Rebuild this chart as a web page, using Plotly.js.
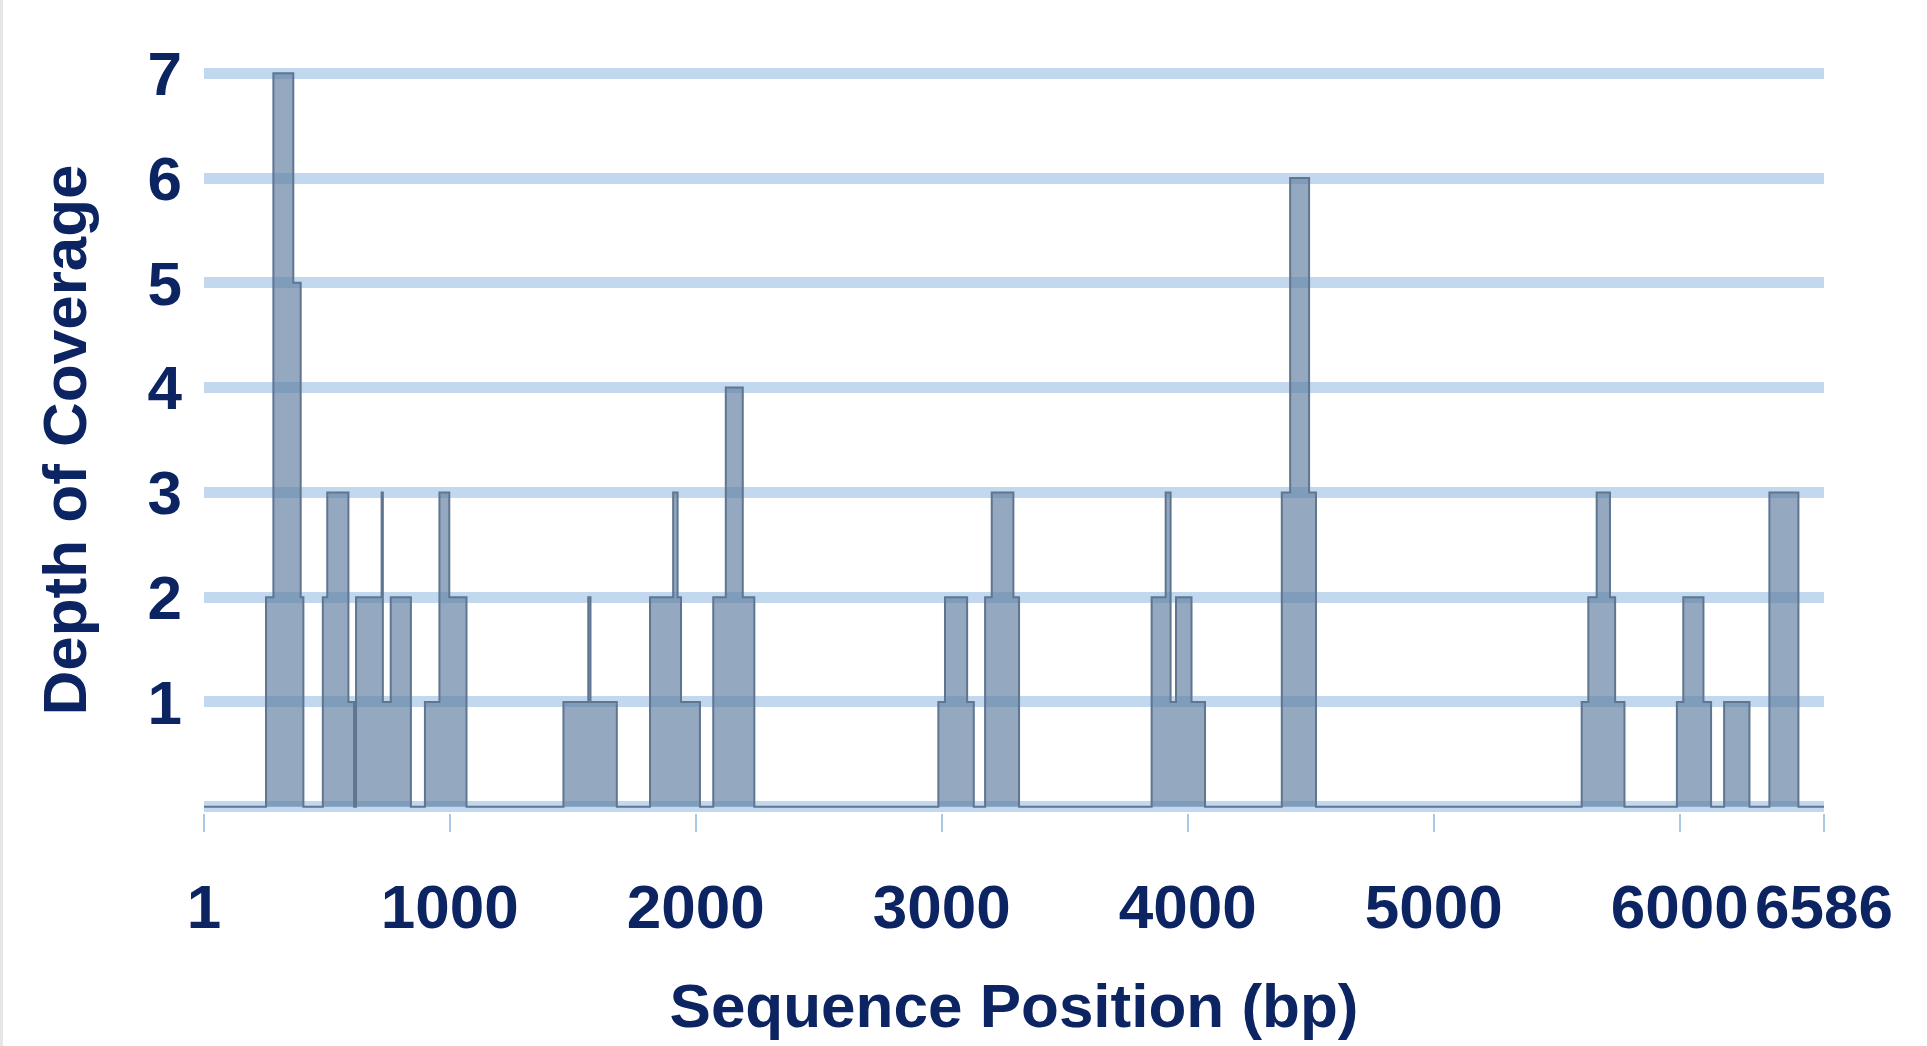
<!DOCTYPE html>
<html>
<head>
<meta charset="utf-8">
<script src="https://cdn.plot.ly/plotly-3.0.1.min.js"></script>
<style>
  html, body { margin: 0; padding: 0; background: #ffffff; }
  #chart { width: 1927px; height: 1046px; }
  #edge { position: absolute; left: 0; top: 0; width: 3px; height: 1046px; background: #e6e6e6; }
</style>
</head>
<body>
<div id="chart"></div>
<div id="edge"></div>
<script>
// Step positions (bp) where coverage depth changes, and the depth from that position on
const positions = [1, 253, 283, 364, 394, 405, 484, 502, 588, 611, 619, 723, 728, 760, 842,
  899, 958, 998, 1068, 1462, 1563, 1572, 1679, 1814, 1908, 1926, 1940, 2017,
  2071, 2122, 2191, 2238, 2986, 3013, 3103, 3130, 3176, 3203, 3291, 3314,
  3853, 3910, 3930, 3952, 4015, 4070, 4382, 4416, 4493, 4521,
  5601, 5628, 5662, 5716, 5737, 5775, 5988, 6014, 6096, 6127, 6180, 6283, 6364, 6482, 6586];
const depth = [0, 2, 7, 5, 2, 0, 2, 3, 1, 0, 2, 3, 1, 2, 0,
  1, 3, 2, 0, 1, 2, 1, 0, 2, 3, 2, 1, 0,
  2, 4, 2, 0, 1, 2, 1, 0, 2, 3, 2, 0,
  2, 3, 1, 2, 1, 0, 3, 6, 3, 0,
  1, 2, 3, 2, 1, 0, 1, 2, 1, 0, 1, 0, 3, 0, 0];

const xTickVals = [1, 1000, 2000, 3000, 4000, 5000, 6000, 6586];
const xTickText = ['1', '1000', '2000', '3000', '4000', '5000', '6000', '6586'];
const yTickVals = [0, 1, 2, 3, 4, 5, 6, 7];
const yTickText = ['', '1', '2', '3', '4', '5', '6', '7'];

const navy = '#0c2461';
const fam = '"Liberation Sans", Arial, sans-serif';
const boldFont = {family: fam, size: 62, color: navy, weight: 'bold'};

const trace = {
  x: positions,
  y: depth,
  type: 'scatter',
  mode: 'lines',
  line: {shape: 'hv', color: '#5f7590', width: 2},
  fill: 'tozeroy',
  fillcolor: 'rgba(92,124,160,0.66)',
  hoverinfo: 'x+y',
  showlegend: false
};

// darker centre line of each horizontal grid band, placed at the y tick values
const gridCentres = yTickVals.map(v => ({
  type: 'line', xref: 'paper', yref: 'y', x0: 0, x1: 1, y0: v, y1: v,
  line: {color: '#9ebfe3', width: 4}, layer: 'between'
}));

const layout = {
  width: 1927,
  height: 1046,
  margin: {l: 204, r: 103, t: 67, b: 233},
  paper_bgcolor: '#ffffff',
  plot_bgcolor: '#ffffff',
  font: boldFont,
  shapes: gridCentres,
  xaxis: {
    range: [1, 6586],
    tickmode: 'array',
    tickvals: xTickVals,
    ticktext: xTickText,
    ticks: 'outside',
    ticklen: 18,
    tickwidth: 2,
    tickcolor: '#a8c6e6',
    showgrid: false,
    zeroline: false,
    showline: false,
    tickfont: boldFont,
    ticklabelstandoff: 22,
    title: {text: 'Sequence Position (bp)', font: boldFont, standoff: 43}
  },
  yaxis: {
    range: [-0.06, 7.06],
    tickmode: 'array',
    tickvals: yTickVals,
    ticktext: yTickText,
    ticks: '',
    showgrid: true,
    gridcolor: '#c2d8ef',
    gridwidth: 11,
    zeroline: false,
    showline: false,
    tickfont: boldFont,
    ticklabelstandoff: 21,
    title: {text: 'Depth of Coverage', font: boldFont, standoff: 40}
  }
};

Plotly.newPlot('chart', [trace], layout, {displayModeBar: false, staticPlot: true});
</script>
</body>
</html>
